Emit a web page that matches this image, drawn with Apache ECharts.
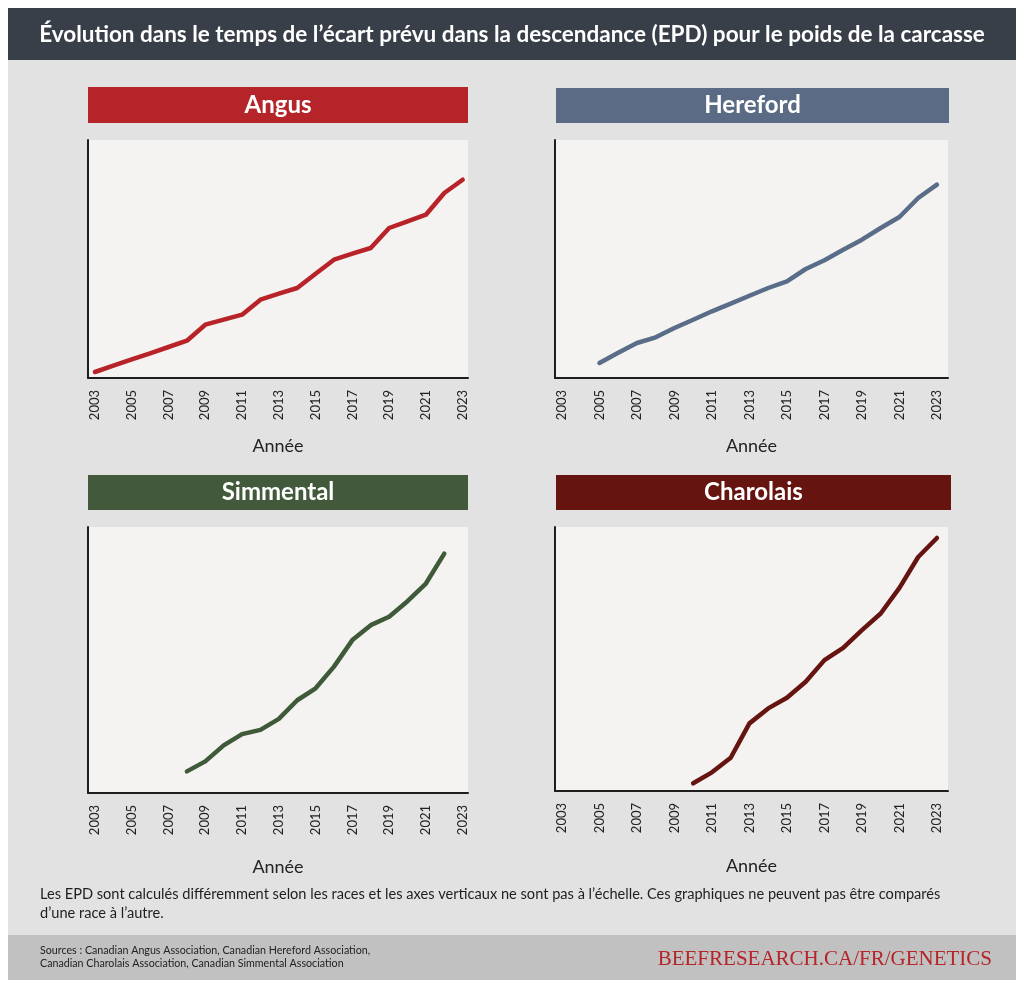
<!DOCTYPE html>
<html><head><meta charset="utf-8">
<script src="https://cdn.jsdelivr.net/npm/echarts@6/dist/echarts.min.js"></script>
<style>html,body{margin:0;padding:0;background:#fff}#c{width:1024px;height:989px}</style>
</head><body><div id="c"></div><script>
// ---- data ----
const tickYears = [2003,2005,2007,2009,2011,2013,2015,2017,2019,2021,2023];
const angusYears = [2003,2004,2005,2006,2007,2008,2009,2010,2011,2012,2013,2014,2015,2016,2017,2018,2019,2020,2021,2022,2023];
const angusValues = [6,12.3,18.7,24.7,31,37.3,53.3,58.3,63.3,78.3,84.3,90,104.3,118.3,124.3,130,150,156.7,163.3,185,198.3];
const herefordYears = [2005,2006,2007,2008,2009,2010,2011,2012,2013,2014,2015,2016,2017,2018,2019,2020,2021,2022,2023];
const herefordValues = [15,25.3,35,40.7,50,58.3,66.7,74.3,82.3,90,96.7,109,117.7,128.3,138.3,150,161,180,193.3];
const simmentalYears = [2008,2009,2010,2011,2012,2013,2014,2015,2016,2017,2018,2019,2020,2021,2022];
const simmentalValues = [21.7,31.7,47.7,59,63.3,74.3,93,105,126.7,153.3,168.3,176.7,192.3,210,240];
const charolaisYears = [2010,2011,2012,2013,2014,2015,2016,2017,2018,2019,2020,2021,2022,2023];
const charolaisValues = [7.7,18.7,33.3,67.7,82.7,93.3,109.3,131,143.3,161,177.7,203.3,234.3,253.3];

const titleText = 'Évolution dans le temps de l’écart prévu dans la descendance (EPD) pour le poids de la carcasse';
const xName = 'Année';
const noteText = 'Les EPD sont calculés différemment selon les races et les axes verticaux ne sont pas à l’échelle. Ces graphiques ne peuvent pas être comparés\nd’une race à l’autre.';
const sourceText = 'Sources : Canadian Angus Association, Canadian Hereford Association,\nCanadian Charolais Association, Canadian Simmental Association';
const urlText = 'BEEFRESEARCH.CA/FR/GENETICS';

// ---- layout ----
const FONT = 'Lato, "Noto Sans", sans-serif';
const panels = [
  {name:'Angus', years:angusYears, values:angusValues, color:'#b82329', bar:'#b52428',
   left:88, right:468, top:140, bottom:378, xMin:2002.62, xMax:2023.29, yMax:238, nameGap:59, barL:88, barR:468, barT:87, barB:123},
  {name:'Hereford', years:herefordYears, values:herefordValues, color:'#5a6d88', bar:'#5b6b85',
   left:555, right:948, top:140, bottom:378, xMin:2002.63, xMax:2023.59, yMax:238, nameGap:59, barL:556, barR:949, barT:88, barB:123},
  {name:'Simmental', years:simmentalYears, values:simmentalValues, color:'#3f5a38', bar:'#42593b',
   left:88, right:468, top:527, bottom:793, xMin:2002.62, xMax:2023.29, yMax:266.7, nameGap:65, barL:88, barR:468, barT:475, barB:510},
  {name:'Charolais', years:charolaisYears, values:charolaisValues, color:'#661410', bar:'#66140f',
   left:555, right:948, top:527, bottom:791, xMin:2002.63, xMax:2023.59, yMax:264.3, nameGap:66, barL:556, barR:951, barT:475, barB:510}
];

const axisLineStyle = {color:'#1e1e1e', width:2};
const grid = [], xAxis = [], yAxis = [], series = [];
const graphics = [
  {type:'rect', z:-100, shape:{x:8,y:8,width:1008,height:972}, style:{fill:'#e2e2e2'}},
  {type:'rect', shape:{x:8,y:8,width:1008,height:52}, style:{fill:'#393f49'}},
  {type:'text', x:512, y:35, style:{text:titleText, fill:'#fff', font:'bold 22.5px '+FONT, align:'center', verticalAlign:'middle'}},
  {type:'rect', shape:{x:8,y:935,width:1008,height:45}, style:{fill:'#c1c1c1'}},
  {type:'text', x:40, y:904, style:{text:noteText, fill:'#1e1e1e', font:'14.6px '+FONT, lineHeight:19, align:'left', verticalAlign:'middle'}},
  {type:'text', x:40, y:957, style:{text:sourceText, fill:'#222', font:'10.7px '+FONT, lineHeight:13, align:'left', verticalAlign:'middle'}},
  {type:'text', x:992, y:959, style:{text:urlText, fill:'#b52428', font:'21px "Liberation Serif", "DejaVu Serif", serif', align:'right', verticalAlign:'middle'}}
];

panels.forEach((p, i) => {
  grid.push({left:p.left, top:p.top, width:p.right-p.left, height:p.bottom-p.top,
    show:true, backgroundColor:'#f4f3f1', borderWidth:0});
  xAxis.push({type:'value', gridIndex:i, min:p.xMin, max:p.xMax,
    axisLine:{show:true, onZero:false, lineStyle:axisLineStyle},
    axisTick:{show:false}, splitLine:{show:false},
    axisLabel:{rotate:90, customValues:tickYears, fontSize:13, color:'#222', margin:12, fontFamily:FONT,
      formatter:v => String(Math.round(v))},
    name:xName, nameLocation:'middle', nameGap:p.nameGap,
    nameTextStyle:{fontSize:18, color:'#222', fontFamily:FONT}});
  yAxis.push({type:'value', gridIndex:i, min:0, max:p.yMax,
    axisLine:{show:true, lineStyle:axisLineStyle},
    axisTick:{show:false}, axisLabel:{show:false}, splitLine:{show:false}});
  series.push({type:'line', xAxisIndex:i, yAxisIndex:i, symbol:'none', silent:true,
    data:p.years.map((y, k) => [y, p.values[k]]),
    lineStyle:{color:p.color, width:4.5, cap:'round', join:'round'}});
  graphics.push({type:'rect', shape:{x:p.barL, y:p.barT, width:p.barR-p.barL, height:p.barB-p.barT}, style:{fill:p.bar}});
  graphics.push({type:'text', x:(p.barL+p.barR)/2, y:(p.barT+p.barB)/2, style:{text:p.name, fill:'#fff', font:'bold 24px '+FONT, align:'center', verticalAlign:'middle'}});
});

const chart = echarts.init(document.getElementById('c'), null, {renderer:'canvas'});
chart.setOption({
  backgroundColor:'#ffffff',
  animation:false,
  grid, xAxis, yAxis, series,
  graphic:{elements:graphics}
});
</script></body></html>
